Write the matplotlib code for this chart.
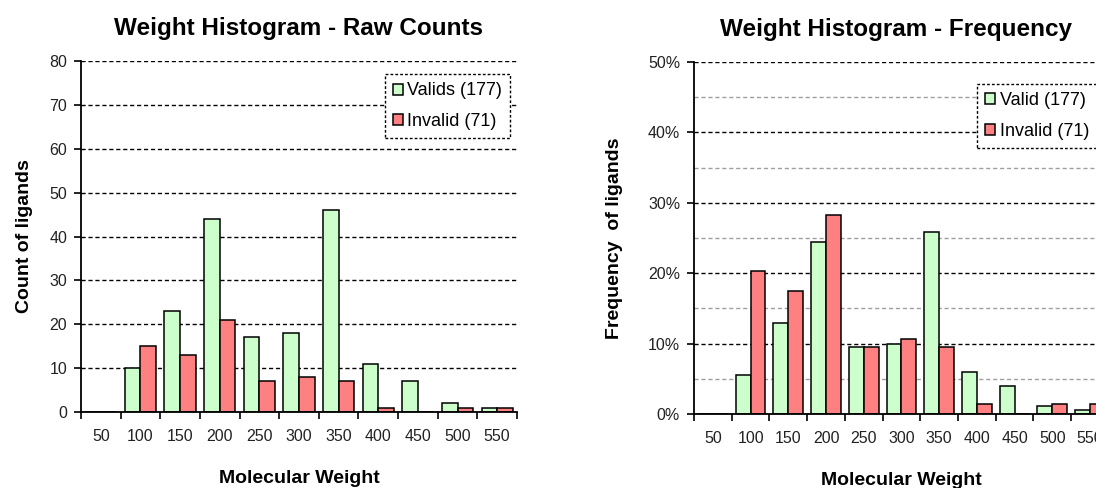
import numpy as np
import matplotlib.pyplot as plt
from matplotlib.ticker import MultipleLocator, PercentFormatter

plt.rcParams['font.family'] = ['Liberation Sans', 'DejaVu Sans']

weights = ["50", "100", "150", "200", "250", "300", "350", "400", "450", "500", "550"]

valid_counts = [0, 10, 23, 44, 17, 18, 46, 11, 7, 2, 1]
invalid_counts = [0, 15, 13, 21, 7, 8, 7, 1, 0, 1, 1]

# percent of each group
valid_freq = [0, 5.6, 12.9, 24.5, 9.5, 10.0, 25.8, 6.0, 4.0, 1.2, 0.6]
invalid_freq = [0, 20.3, 17.5, 28.3, 9.5, 10.7, 9.5, 1.4, 0, 1.4, 1.4]

green = "#ccffcc"
red = "#ff8080"

fig = plt.figure(figsize=(10.96, 4.88), dpi=100)
ax1 = fig.add_axes([0.0739, 0.1557, 0.3978, 0.7193])
ax2 = fig.add_axes([0.6332, 0.1516, 0.3786, 0.7213])

x = np.arange(len(weights))
w = 0.395


def style_axes(ax, ymax):
    for s in ["top", "right"]:
        ax.spines[s].set_visible(False)
    ax.spines["left"].set_linewidth(1.3)
    ax.spines["bottom"].set_linewidth(1.3)
    ax.set_xlim(-0.5, len(weights) - 0.5)
    ax.set_ylim(0, ymax)
    ax.set_xticks(np.arange(len(weights) + 1) - 0.5)
    ax.set_xticklabels([])
    ax.set_xticks(x, minor=True)
    ax.set_xticklabels(weights, minor=True)
    ax.tick_params(axis="x", which="major", length=5, width=1.2, direction="out")
    ax.tick_params(axis="x", which="minor", length=0, pad=12, labelsize=11.5, labelcolor="#222222")
    ax.tick_params(axis="y", which="major", length=5, width=1.2, direction="out", pad=5,
                   labelsize=11.5, labelcolor="#222222")
    ax.tick_params(axis="y", which="minor", length=0)
    ax.set_axisbelow(True)
    ax.set_xlabel("Molecular Weight", fontsize=14, fontweight="bold", labelpad=19)


def add_legend(ax, labels, anchor):
    leg = ax.legend(labels, loc="upper left", bbox_to_anchor=anchor, fontsize=13,
                    fancybox=False, edgecolor="black", framealpha=1,
                    handlelength=0.55, handleheight=0.55, handletextpad=0.25,
                    labelspacing=0.75, borderpad=0.45, borderaxespad=0)
    leg.get_frame().set_linestyle((0, (2, 1.5)))
    leg.get_frame().set_linewidth(1.0)


# raw counts
ax1.bar(x - w / 2, valid_counts, w, color=green, edgecolor="black", linewidth=1.1)
ax1.bar(x + w / 2, invalid_counts, w, color=red, edgecolor="black", linewidth=1.1)
style_axes(ax1, 80)
ax1.yaxis.set_major_locator(MultipleLocator(10))
ax1.grid(axis="y", which="major", color="black", linestyle=(0, (3, 2)), linewidth=1)
ax1.set_ylabel("Count of ligands", fontsize=14, fontweight="bold", labelpad=12)
ax1.set_title("Weight Histogram - Raw Counts", fontsize=17.5, fontweight="bold", pad=19)
add_legend(ax1, ["Valids (177)", "Invalid (71)"], (0.697, 0.962))

# frequency
ax2.bar(x - w / 2, valid_freq, w, color=green, edgecolor="black", linewidth=1.1)
ax2.bar(x + w / 2, invalid_freq, w, color=red, edgecolor="black", linewidth=1.1)
style_axes(ax2, 50)
ax2.yaxis.set_major_locator(MultipleLocator(10))
ax2.yaxis.set_minor_locator(MultipleLocator(5))
ax2.yaxis.set_major_formatter(PercentFormatter(decimals=0))
ax2.grid(axis="y", which="major", color="black", linestyle=(0, (3, 2)), linewidth=1)
ax2.grid(axis="y", which="minor", color="#a0a0a0", linestyle=(0, (3, 2)), linewidth=1)
ax2.set_ylabel("Frequency  of ligands", fontsize=14, fontweight="bold", labelpad=18)
ax2.set_title("Weight Histogram - Frequency", fontsize=17.5, fontweight="bold", pad=19,
              x=0.5 - 0.012)
add_legend(ax2, ["Valid (177)", "Invalid (71)"], (0.682, 0.937))

fig.savefig("out.png", dpi=100)
